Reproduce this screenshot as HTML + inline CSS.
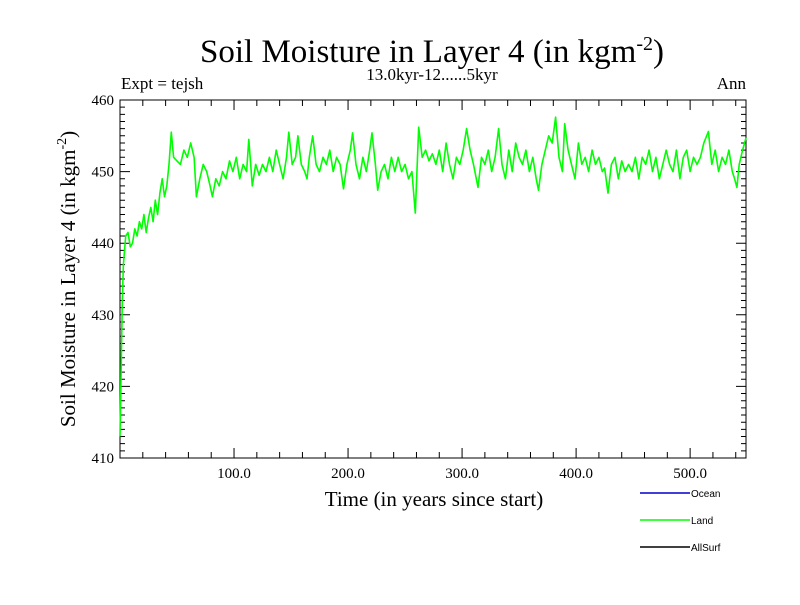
<!DOCTYPE html>
<html><head><meta charset="utf-8"><style>
body{margin:0;background:#fff}
svg text{font-family:"Liberation Serif",serif;fill:#000}
</style></head><body>
<svg width="800" height="600" viewBox="0 0 800 600">
<text x="432" y="62" font-size="33" text-anchor="middle">Soil Moisture in Layer 4 (in kgm<tspan dy="-12" font-size="20">-2</tspan><tspan dy="12">)</tspan></text>
<text x="121" y="89" font-size="17">Expt = tejsh</text>
<text x="432" y="80" font-size="17" text-anchor="middle">13.0kyr-12......5kyr</text>
<text x="746" y="89" font-size="17" text-anchor="end">Ann</text>
<g id="axes"></g>
<text x="434" y="506" font-size="21" text-anchor="middle">Time (in years since start)</text>
<text transform="translate(75,279) rotate(-90)" font-size="21" text-anchor="middle">Soil Moisture in Layer 4 (in kgm<tspan dy="-9" font-size="14">-2</tspan><tspan dy="9">)</tspan></text>
<g>
<line x1="640" y1="493" x2="690" y2="493" stroke="#0000cc" stroke-width="1.5"/>
<text x="691" y="497" font-size="10" style="font-family:'Liberation Sans',sans-serif">Ocean</text>
<line x1="640" y1="520" x2="690" y2="520" stroke="#00ff00" stroke-width="1.5"/>
<text x="691" y="524" font-size="10" style="font-family:'Liberation Sans',sans-serif">Land</text>
<line x1="640" y1="547" x2="690" y2="547" stroke="#000" stroke-width="1.5"/>
<text x="691" y="551" font-size="10" style="font-family:'Liberation Sans',sans-serif">AllSurf</text>
</g>
</svg>
<script>
const years=[0,1,2,3,5,7,9,11,13,15,17,19,21,23,25,27,29,31,33,35,37,39,41,43,45,47,50,53,56,59,62,65,67,70,73,76,79,81,84,87,90,93,96,99,102,105,108,111,113,116,119,122,125,128,131,134,137,140,143,146,148,151,154,156,159,162,164,166,169,172,175,178,181,184,187,190,193,196,199,202,204,207,210,213,216,219,221,224,226,229,232,235,238,241,244,247,250,253,256,259,262,265,268,271,274,277,280,283,286,289,292,295,298,301,304,307,310,314,317,320,323,326,329,332,335,338,341,344,347,350,353,356,359,362,365,367,370,373,376,379,382,385,388,390,393,396,399,402,405,408,411,414,417,420,423,425,428,431,434,437,440,443,446,449,452,455,458,461,464,467,470,473,476,479,482,485,488,491,494,497,500,503,506,509,512,516,519,522,525,528,531,534,537,539,541,543,546,549];
const landValues=[413,422,432,437,441,441.5,439.5,440,442,441,443,442,444,441.5,443.5,445,443,446,444,447,449,446.5,448,451,455.5,452,451.5,451,453,452,454,452,446.5,449,451,450,448,446.5,449,448,450,449,451.5,450,452,449,451,450,454.5,448,451,449.5,451,450,452,450,453,451,449,452,455.5,451,452,455,451,450,449,452,455,451,450,452,451,453,450,452,451,447.6,451,453,455.4,451,449,452,450,453,455.4,451,447.4,450,451,449,452,450,452,450,451,449,450,444.2,456.2,452,453,451.5,452.5,451,453,450,454,451,449,452,451,453,456,453,451,447.8,452,451,453,450,452,456,451,449,453,450,454,452,451,453,450,452,449,447.4,451,453,455,454,457.6,452,450,456.7,453,451,449,454,451,452,450,453,451,452,450,450.5,447,451,452,449,451.5,450,451,450,452,449,452,451,453,450,452,449,451,453,451,450,453,449,452,453,450,452,451,452,454,455.6,451,453,450,452,451,453,450,449,447.8,451,453,454.7];
const yTicks=[410,420,430,440,450,460];
const xTicks=[100,200,300,400,500];
const X0=120,X1=746,Y0=100,Y1=458,XMIN=0,XMAX=549,YMIN=410,YMAX=460;
const sx=v=>X0+(v-XMIN)/(XMAX-XMIN)*(X1-X0);
const sy=v=>Y1-(v-YMIN)/(YMAX-YMIN)*(Y1-Y0);
const NS="http://www.w3.org/2000/svg";
const g=document.getElementById('axes');
function mk(t,a){const e=document.createElementNS(NS,t);for(const k in a)e.setAttribute(k,a[k]);g.appendChild(e);return e;}
let fr=mk('rect',{x:X0,y:Y0,width:X1-X0,height:Y1-Y0,fill:'none',stroke:'#000','stroke-width':1});


let td='';
for(let v=YMIN;v<=YMAX;v+=1){const y=sy(v),L=(v%10===0)?10:5;td+=`M${X0},${y}h${L}M${X1},${y}h${-L}`;}
for(let v=20;v<XMAX;v+=20){const x=sx(v),L=(v%100===0)?10:6;td+=`M${x},${Y1}v${-L}M${x},${Y0}v${L}`;}
let tk=mk('path',{d:td,stroke:'#000','stroke-width':1,fill:'none'});


yTicks.forEach(v=>{const t=mk('text',{x:X0-6,y:sy(v)+5,'font-size':15,'text-anchor':'end'});t.textContent=v;

});
xTicks.forEach(v=>{const t=mk('text',{x:sx(v),y:Y1+20,'font-size':15,'text-anchor':'middle'});t.textContent=v.toFixed(1);

});
const pts=years.map((yr,i)=>sx(yr).toFixed(1)+','+sy(landValues[i]).toFixed(1)).join(' ');
const ln=mk('polyline',{points:pts,fill:'none',stroke:'#00ff00','stroke-width':1.6,'stroke-linejoin':'round'});


</script>
</body></html>
